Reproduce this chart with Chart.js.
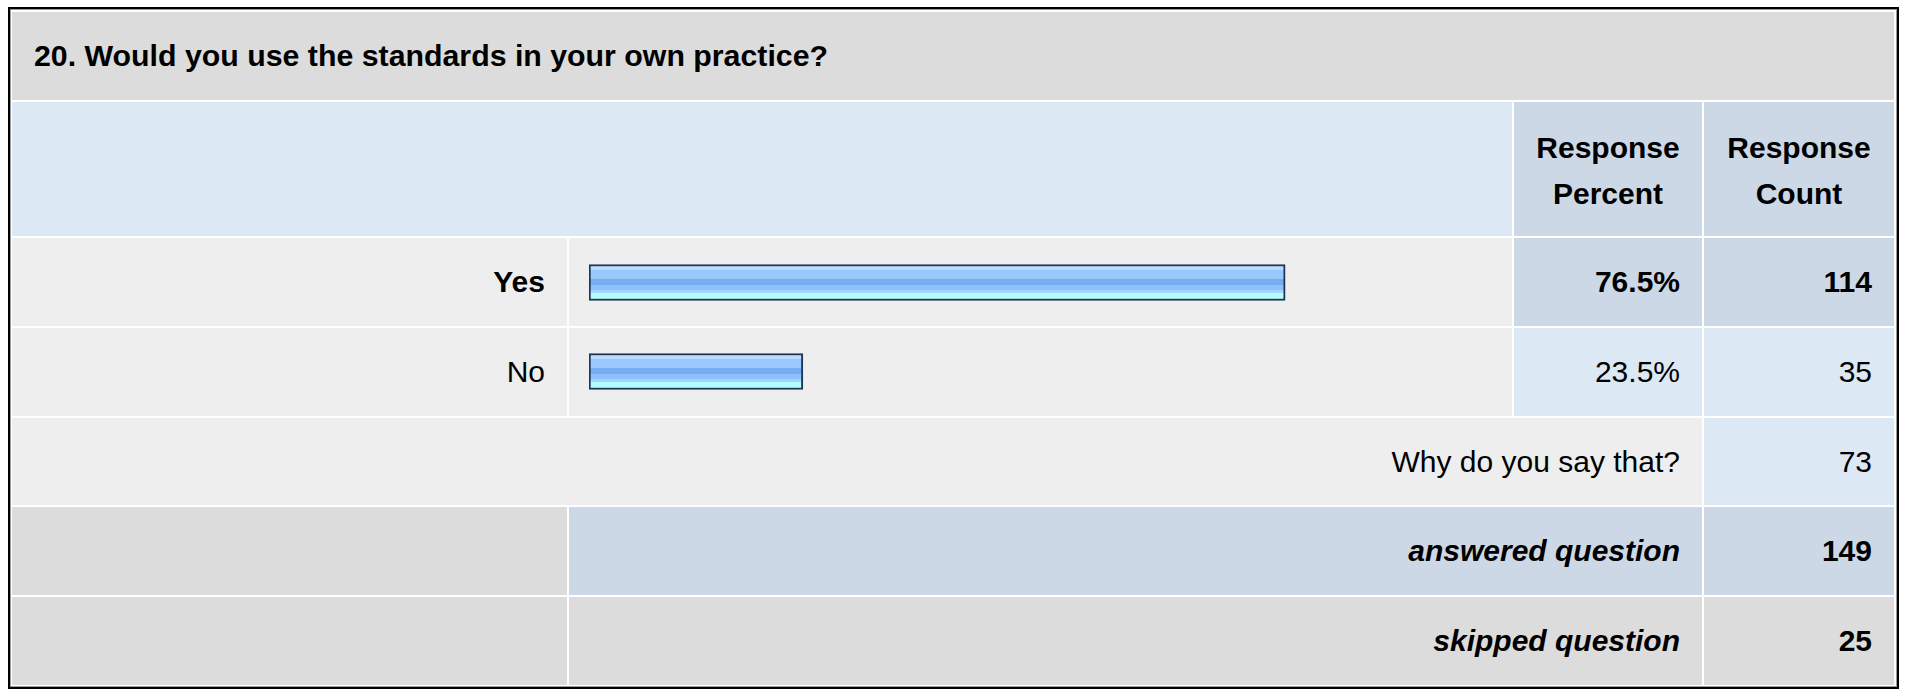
<!DOCTYPE html>
<html>
<head>
<meta charset="utf-8">
<script src="https://cdn.jsdelivr.net/npm/chart.js@4.4.1/dist/chart.umd.min.js"></script>
<style>
  html, body { margin: 0; padding: 0; background: #fff; }
  body { width: 1909px; height: 690px; position: relative; overflow: hidden;
         font-family: "Liberation Sans", Arial, sans-serif; font-size: 30px; color: #000; }
  #frame { position: absolute; left: 8px; top: 7px; width: 1891px; height: 682px;
           box-sizing: border-box; border: 2px solid #000; box-shadow: inset 0 0 0 1px #9a9a9a; }
  #grid { position: absolute; left: 12px; top: 12px; width: 1882px; height: 673px;
          display: grid; gap: 2px; background: #fff;
          grid-template-columns: 555px 943px 188px 190px;
          grid-template-rows: 88px 134px 88px 88px 87px 88px 88px; }
  .c { display: flex; align-items: center; box-sizing: border-box; }
  .r { justify-content: flex-end; padding-right: 22px; }
  .b { font-weight: bold; }
  .i { font-style: italic; }
  .gray { background: #dcdcdc; }
  .light { background: #eeeeee; }
  .blue { background: #dde8f5; }
  .dark { background: #ccd8e6; }
  .head { justify-content: center; text-align: center; line-height: 46px; font-weight: bold; padding-top: 4px; }
  #title { padding-left: 22px; font-size: 30.3px; }
  #bars { position: absolute; left: 569px; top: 238px; }
</style>
</head>
<body>
<div id="frame"></div>
<div id="grid"></div>
<canvas id="bars" width="943" height="178"></canvas>
<script>
var question = '20. Would you use the standards in your own practice?';
var answers = ['Yes', 'No'];
var percents = [76.5, 23.5];
var counts = [114, 35];
var commentLabel = 'Why do you say that?';
var commentCount = 73;
var answered = 149;
var skipped = 25;

var grid = document.getElementById('grid');

function cell(text, cls, col, span) {
    var d = document.createElement('div');
    d.className = 'c ' + cls;
    d.innerHTML = text;
    if (col) d.style.gridColumn = col + ' / span ' + (span || 1);
    grid.appendChild(d);
    return d;
}

cell(question, 'gray b', 1, 4).id = 'title';

cell('', 'blue', 1, 2);
cell('Response<br>Percent', 'dark head', 3);
cell('Response<br>Count', 'dark head', 4);

// first answer row is highlighted (bold, darker cells)
answers.forEach(function (label, i) {
    var first = i === 0;
    var w = first ? ' b' : '';
    var bg = first ? 'dark' : 'blue';
    cell(label, 'light r' + w, 1);
    cell('', 'light', 2);
    cell(percents[i].toFixed(1) + '%', bg + ' r' + w, 3);
    cell(String(counts[i]), bg + ' r' + w, 4);
});

cell(commentLabel, 'light r', 1, 3);
cell(String(commentCount), 'blue r', 4);

cell('', 'gray', 1);
cell('answered question', 'dark r b i', 2, 2);
cell(String(answered), 'dark r b', 4);

cell('', 'gray', 1);
cell('skipped question', 'gray r b i', 2, 2);
cell(String(skipped), 'gray r b', 4);

// banded glossy fill for each bar
function barFill(context) {
    var chart = context.chart;
    var yScale = chart.scales.y;
    var yc = yScale ? yScale.getPixelForValue(context.dataIndex) : NaN;
    if (!isFinite(yc)) return '#9ccaff';
    var h = 36;
    var g = chart.ctx.createLinearGradient(0, yc - h / 2, 0, yc + h / 2);
    var stops = [
        [0.00, '#bcdaff'], [0.14, '#bcdaff'],
        [0.14, '#99c8ff'], [0.40, '#99c8ff'],
        [0.40, '#76acf0'], [0.58, '#76acf0'],
        [0.58, '#8cc1fa'], [0.70, '#8cc1fa'],
        [0.70, '#a4d4ff'], [0.80, '#a4d4ff'],
        [0.80, '#b2feff'], [1.00, '#b2feff']
    ];
    stops.forEach(function (s) { g.addColorStop(s[0], s[1]); });
    return g;
}

var ctx = document.getElementById('bars').getContext('2d');
var chart = new Chart(ctx, {
    type: 'bar',
    data: {
        labels: answers,
        datasets: [{
            data: percents,
            backgroundColor: barFill,
            borderColor: '#1d3454',
            borderWidth: 2,
            borderSkipped: false,
            barThickness: 36
        }]
    },
    options: {
        indexAxis: 'y',
        responsive: false,
        devicePixelRatio: 1,
        animation: false,
        layout: { padding: { left: 20, right: 13, top: 0, bottom: 0 } },
        scales: {
            x: { display: false, min: 0, max: 100 },
            y: { display: false }
        },
        plugins: {
            legend: { display: false },
            tooltip: { enabled: false }
        }
    }
});
</script>
</body>
</html>
